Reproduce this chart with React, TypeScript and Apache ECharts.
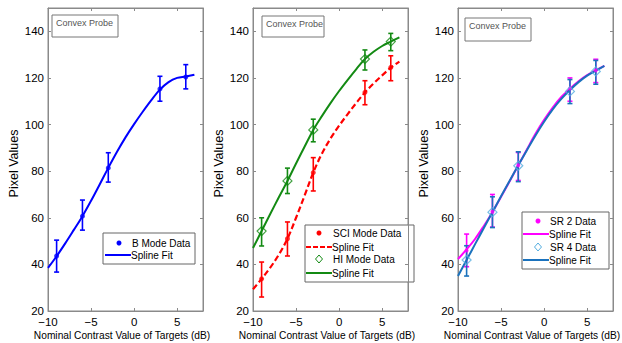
import React, { useEffect, useRef } from "react";
import * as echarts from "echarts";

// ---- data ----
const xPoints = [-9, -6, -3, 3, 6];
const xTicks = [-10, -5, 0, 5];

// Panel 1: B mode
const bMean = [43.6, 60.7, 81.4, 115.3, 120.4];
const bLow = [36.7, 54.7, 75.3, 110.0, 115.3];
const bHigh = [50.4, 67.6, 87.9, 120.7, 125.7];
const bFit = [[-10, 38.5], [-9, 43.5], [-8, 49], [-7, 54.8], [-6, 60.7], [-5, 67.3], [-4, 74.3], [-3, 81.4], [-2, 88.2], [-1, 94.5], [0, 100.2], [1, 105.5], [2, 110.5], [3, 115.0], [4, 118.2], [5, 120.0], [6, 120.6], [7, 121.4]];

// Panel 2: SCI and HI
const sciMean = [33.8, 51.0, 79.4, 113.8, 124.5];
const sciLow = [26.0, 43.6, 71.5, 108.5, 118.8];
const sciHigh = [41.0, 58.2, 85.8, 118.8, 129.5];
const sciFit = [[-10, 29.3], [-9, 33.8], [-8, 38.6], [-7, 44.2], [-6, 51.0], [-5, 60.0], [-4, 69.6], [-3, 79.4], [-2, 87.5], [-1, 94.0], [0, 99.5], [1, 104.5], [2, 109.3], [3, 113.8], [4, 117.6], [5, 121.1], [6, 124.4], [7, 127.0]];
const hiMean = [54.3, 75.8, 97.7, 128.1, 135.6];
const hiLow = [47.9, 70.4, 92.6, 123.4, 131.7];
const hiHigh = [60.0, 81.3, 102.3, 132.0, 139.1];
const hiFit = [[-10, 47.0], [-9, 54.3], [-8, 61.6], [-7, 68.8], [-6, 75.8], [-5, 83.3], [-4, 90.6], [-3, 97.7], [-2, 103.6], [-1, 109.2], [0, 114.4], [1, 119.2], [2, 123.8], [3, 128.1], [4, 131.2], [5, 133.7], [6, 135.6], [7, 137.4]];

// Panel 3: SR 2 and SR 4
const sr2Mean = [46.0, 62.6, 82.5, 115.5, 123.3];
const sr2Low = [39.0, 56.0, 76.0, 110.0, 118.0];
const sr2High = [53.0, 70.0, 88.0, 120.0, 128.0];
const sr2Fit = [[-10, 42.3], [-9, 46.4], [-8, 51.0], [-7, 56.5], [-6, 62.4], [-5, 69.0], [-4, 75.7], [-3, 82.5], [-2, 89.3], [-1, 96.0], [0, 102.0], [1, 107.3], [2, 111.8], [3, 115.4], [4, 118.6], [5, 121.2], [6, 123.3], [7, 125.2]];
const sr4Mean = [41.9, 62.4, 82.3, 114.2, 122.8];
const sr4Low = [35.0, 55.8, 75.5, 109.0, 117.3];
const sr4High = [48.0, 69.0, 88.3, 119.3, 127.5];
const sr4Fit = [[-10, 35.0], [-9, 41.9], [-8, 48.8], [-7, 55.6], [-6, 62.4], [-5, 69.2], [-4, 75.9], [-3, 82.5], [-2, 89.0], [-1, 95.3], [0, 101.2], [1, 106.5], [2, 111.0], [3, 114.8], [4, 118.2], [5, 121.0], [6, 123.1], [7, 125.2]];

const yTicks = [20, 40, 60, 80, 100, 120, 140];

// ---- styles ----
const BLUE = "#0000ff";
const RED = "#ff0000";
const GREEN = "#138a13";
const MAGENTA = "#ff00ff";
const SBLUE = "#1a72bd";
const SBLUE_LIGHT = "#55aee0";
const AXIS = "#8a8a8a";
const FONT = "Liberation Sans, Arial, sans-serif";

const gridLefts = [48, 253, 458];
const GW = 155;
const GT = 8;
const GH = 303;

const fmtX = (v: number) => (v < 0 ? "\u2212" + Math.abs(v) : String(v));

function errSeries(idx: number, low: number[], high: number[], color: string) {
  const data = xPoints.map((x, i) => [x, low[i], high[i]]);
  return {
    type: "custom",
    xAxisIndex: idx * 2,
    yAxisIndex: idx * 2,
    data,
    encode: { x: 0, y: [1, 2] },
    z: 3,
    renderItem: (params: any, api: any) => {
      const x = api.value(0);
      const p1 = api.coord([x, api.value(2)]);
      const p2 = api.coord([x, api.value(1)]);
      const w = 2.5;
      const st = { stroke: color, lineWidth: 1.6 };
      return {
        type: "group",
        children: [
          { type: "line", shape: { x1: p1[0], y1: p1[1], x2: p2[0], y2: p2[1] }, style: st },
          { type: "line", shape: { x1: p1[0] - w, y1: p1[1], x2: p1[0] + w, y2: p1[1] }, style: st },
          { type: "line", shape: { x1: p2[0] - w, y1: p2[1], x2: p2[0] + w, y2: p2[1] }, style: st },
        ],
      };
    },
  };
}

function fitSeries(idx: number, data: number[][], color: string, dashed = false, width = 2) {
  return {
    type: "line",
    xAxisIndex: idx * 2,
    yAxisIndex: idx * 2,
    data,
    smooth: 0.35,
    showSymbol: false,
    z: 4,
    lineStyle: { color, width, type: dashed ? [6, 3] : "solid" },
  };
}

function markSeries(idx: number, mean: number[], color: string, symbol: string, size: number, hollow: boolean) {
  return {
    type: "scatter",
    xAxisIndex: idx * 2,
    yAxisIndex: idx * 2,
    data: xPoints.map((x, i) => [x, mean[i]]),
    symbol,
    symbolSize: size,
    z: 5,
    itemStyle: hollow
      ? { color: "rgba(0,0,0,0)", borderColor: color, borderWidth: 1.2 }
      : { color },
  };
}

function legendBox(x: number, y: number, w: number, h: number, rows: any[]) {
  const children: any[] = [
    { type: "rect", shape: { x, y, width: w, height: h }, style: { fill: "#fff", stroke: "#666", lineWidth: 1 } },
  ];
  rows.forEach((r: any) => {
    if (r.kind === "line") {
      children.push({
        type: "line",
        shape: { x1: r.x1, y1: r.y, x2: r.x2, y2: r.y },
        style: { stroke: r.color, lineWidth: 2, lineDash: r.dashed ? [5, 2] : null },
      });
    } else if (r.kind === "dot") {
      children.push({ type: "circle", shape: { cx: r.mx, cy: r.y, r: 2.5 }, style: { fill: r.color } });
    } else if (r.kind === "diamond") {
      children.push({
        type: "polygon",
        shape: { points: [[r.mx, r.y - 4], [r.mx + 3.5, r.y], [r.mx, r.y + 4], [r.mx - 3.5, r.y]] },
        style: { fill: "none", stroke: r.color, lineWidth: 1 },
      });
    }
    children.push({
      type: "text",
      style: { text: r.text, x: r.tx, y: r.y, font: "10px " + FONT, fill: "#000", verticalAlign: "middle", align: "left" },
    });
  });
  return { type: "group", z: 100, children };
}

function probeBox(x: number, y: number, w: number, h: number) {
  return {
    type: "group",
    z: 100,
    children: [
      { type: "rect", shape: { x, y, width: w, height: h }, style: { fill: "#fff", stroke: "#777", lineWidth: 1 } },
      {
        type: "text",
        style: { text: "Convex Probe", x: x + 4, y: y + 8, font: "9px " + FONT, fill: "#555", verticalAlign: "middle" },
      },
    ],
  };
}

export default function App() {
  const ref = useRef<HTMLDivElement>(null);
  useEffect(() => {
    if (!ref.current) return;
    const chart = echarts.init(ref.current, null, { renderer: "svg" });

    const grids = gridLefts.map((l) => ({
      left: l,
      top: GT,
      width: GW,
      height: GH,
      show: true,
      borderColor: AXIS,
      borderWidth: 1,
      backgroundColor: "#fff",
    }));

    const xAxes: any[] = [];
    const yAxes: any[] = [];
    gridLefts.forEach((_, i) => {
      const base = {
        type: "value",
        gridIndex: i,
        min: -10,
        max: 8,
        interval: 5,
        splitLine: { show: false },
        axisLine: { show: true, onZero: false, lineStyle: { color: AXIS } },
        axisTick: { show: true, inside: true, length: 3, lineStyle: { color: AXIS } },
      };
      xAxes.push({
        ...base,
        position: "bottom",
        axisLabel: {
          show: true,
          color: "#000",
          fontSize: 11.5,
          fontFamily: FONT,
          margin: 5,
          formatter: (v: number) => (xTicks.includes(v) ? fmtX(v) : ""),
        },
      });
      xAxes.push({ ...base, position: "top", axisLabel: { show: false } });
      const ybase = {
        type: "value",
        gridIndex: i,
        min: 20,
        max: 150,
        interval: 20,
        splitLine: { show: false },
        axisLine: { show: true, onZero: false, lineStyle: { color: AXIS } },
        axisTick: { show: true, inside: true, length: 3, lineStyle: { color: AXIS } },
      };
      yAxes.push({
        ...ybase,
        position: "left",
        axisLabel: {
          show: true,
          color: "#000",
          fontSize: 11.5,
          fontFamily: FONT,
          margin: 4,
          formatter: (v: number) => (yTicks.includes(v) ? String(v) : ""),
        },
      });
      yAxes.push({ ...ybase, position: "right", axisLabel: { show: false } });
    });

    const titles: any[] = [];
    gridLefts.forEach((l) => {
      titles.push({
        type: "text",
        x: l - 34,
        y: GT + GH / 2 + 4,
        rotation: Math.PI / 2,
        style: { text: "Pixel Values", font: "12.5px " + FONT, fill: "#000", align: "center", verticalAlign: "middle" },
      });
      titles.push({
        type: "text",
        x: l + 74,
        y: 335,
        style: {
          text: "Nominal Contrast Value of Targets (dB)",
          font: "10.2px " + FONT,
          fill: "#000",
          align: "center",
          verticalAlign: "middle",
        },
      });
    });

    const option: any = {
      animation: false,
      backgroundColor: "#fff",
      grid: grids,
      xAxis: xAxes,
      yAxis: yAxes,
      series: [
        errSeries(0, bLow, bHigh, BLUE),
        fitSeries(0, bFit, BLUE, false, 2),
        markSeries(0, bMean, BLUE, "circle", 5, false),

        errSeries(1, sciLow, sciHigh, RED),
        fitSeries(1, sciFit, RED, true, 2.2),
        markSeries(1, sciMean, RED, "circle", 5, false),
        errSeries(1, hiLow, hiHigh, GREEN),
        fitSeries(1, hiFit, GREEN, false, 2),
        markSeries(1, hiMean, GREEN, "diamond", 9, true),

        errSeries(2, sr2Low, sr2High, MAGENTA),
        errSeries(2, sr4Low, sr4High, SBLUE),
        fitSeries(2, sr2Fit, MAGENTA, false, 2),
        fitSeries(2, sr4Fit, SBLUE, false, 2),
        markSeries(2, sr2Mean, MAGENTA, "circle", 4, false),
        markSeries(2, sr4Mean, SBLUE_LIGHT, "diamond", 9, true),
      ],
      graphic: [
        ...titles,
        probeBox(52, 15, 66, 22),
        probeBox(262, 16, 62, 21),
        probeBox(465, 18, 66, 23),
        legendBox(103, 233, 92, 31, [
          { kind: "dot", mx: 119, y: 243, color: BLUE, text: "B Mode Data", tx: 132 },
          { kind: "line", x1: 105, x2: 131, y: 255, color: BLUE, text: "Spline Fit", tx: 131 },
        ]),
        legendBox(305, 225, 109, 57, [
          { kind: "dot", mx: 319, y: 233, color: RED, text: "SCI Mode Data", tx: 333 },
          { kind: "line", x1: 306, x2: 332, y: 247, color: RED, dashed: true, text: "Spline Fit", tx: 332 },
          { kind: "diamond", mx: 319, y: 259, color: GREEN, text: "HI Mode Data", tx: 333 },
          { kind: "line", x1: 306, x2: 332, y: 273, color: GREEN, text: "Spline Fit", tx: 332 },
        ]),
        legendBox(522, 212, 87, 57, [
          { kind: "dot", mx: 538, y: 221, color: MAGENTA, text: "SR 2 Data", tx: 550 },
          { kind: "line", x1: 523, x2: 549, y: 234, color: MAGENTA, text: "Spline Fit", tx: 549 },
          { kind: "diamond", mx: 538, y: 247, color: SBLUE_LIGHT, text: "SR 4 Data", tx: 550 },
          { kind: "line", x1: 523, x2: 549, y: 260, color: SBLUE, text: "Spline Fit", tx: 549 },
        ]),
      ],
    };
    chart.setOption(option);
    return () => chart.dispose();
  }, []);

  return (
    <div
      ref={ref}
      style={{ width: 622, height: 343, position: "absolute", left: 0, top: 0, background: "#fff" }}
    />
  );
}
